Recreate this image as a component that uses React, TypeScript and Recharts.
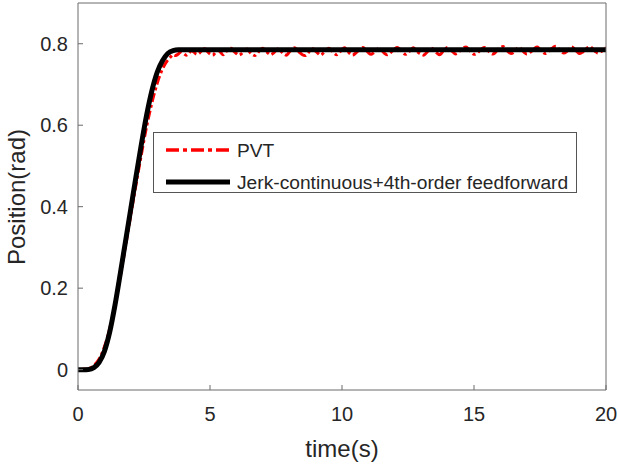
import React from 'react';
import { LineChart, Line, XAxis, YAxis, Legend } from 'recharts';

const FONT = '"Liberation Sans", Arial, Helvetica, sans-serif';
const TEXT = '#262626';
const AXIS = '#6a6a6a';

const X_TICKS = [0, 5, 10, 15, 20];
const Y_TICKS = [0, 0.2, 0.4, 0.6, 0.8];
const X_DOMAIN = [0, 20];
const Y_DOMAIN = [-0.05, 0.9];

const SERIES_NAMES = ['PVT', 'Jerk-continuous+4th-order feedforward'];

// Jerk-continuous + 4th-order feedforward (black)
const JERK_T = [0, 0.2, 0.4, 0.6, 0.8, 1.0, 1.2, 1.4, 1.6, 1.8, 2.0, 2.2, 2.4, 2.6, 2.8, 3.0, 3.2, 3.4, 3.6, 3.8, 20];
const JERK_POS = [0, 0, 0.0005, 0.005, 0.018, 0.045, 0.092, 0.158, 0.235, 0.315, 0.395, 0.475, 0.553, 0.625, 0.685, 0.73, 0.758, 0.776, 0.783, 0.785, 0.785];

// PVT (red) rise part
const PVT_RISE_T = [0, 0.2, 0.4, 0.6, 0.8, 1.0, 1.2, 1.4, 1.6, 1.8, 2.0, 2.2, 2.4, 2.6, 2.8, 3.0, 3.2, 3.4, 3.5];
const PVT_RISE_POS = [0, 0.001, 0.003, 0.01, 0.026, 0.056, 0.1, 0.158, 0.228, 0.303, 0.38, 0.455, 0.528, 0.597, 0.655, 0.703, 0.738, 0.76, 0.767];

// PVT (red) plateau, sampled every 0.1 s from 3.6 s to 20 s
const PVT_PLATEAU_START = 3.6;
const PVT_PLATEAU_STEP = 0.1;
const PVT_PLATEAU_POS = [
  0.773, 0.771, 0.775, 0.780, 0.776, 0.772, 0.777, 0.783, 0.779, 0.774,
  0.777, 0.784, 0.788, 0.781, 0.775, 0.772, 0.778, 0.784, 0.779, 0.773,
  0.780, 0.786, 0.789, 0.782, 0.776, 0.772, 0.776, 0.783, 0.787, 0.780,
  0.774, 0.771, 0.777, 0.785, 0.789, 0.784, 0.777, 0.773, 0.777, 0.784,
  0.788, 0.781, 0.775, 0.772, 0.779, 0.786, 0.790, 0.785, 0.778, 0.773,
  0.771, 0.776, 0.784, 0.788, 0.782, 0.776, 0.772, 0.778, 0.785, 0.789,
  0.784, 0.777, 0.773, 0.778, 0.786, 0.790, 0.783, 0.776, 0.772, 0.776,
  0.782, 0.788, 0.791, 0.785, 0.778, 0.774, 0.778, 0.784, 0.789, 0.784,
  0.777, 0.773, 0.776, 0.782, 0.788, 0.791, 0.786, 0.779, 0.774, 0.778,
  0.785, 0.790, 0.785, 0.778, 0.774, 0.772, 0.778, 0.785, 0.789, 0.783,
  0.777, 0.773, 0.779, 0.786, 0.791, 0.787, 0.780, 0.775, 0.778, 0.785,
  0.790, 0.792, 0.786, 0.779, 0.774, 0.776, 0.782, 0.788, 0.791, 0.785,
  0.779, 0.775, 0.778, 0.785, 0.790, 0.793, 0.787, 0.780, 0.776, 0.779,
  0.786, 0.791, 0.786, 0.779, 0.775, 0.778, 0.783, 0.789, 0.792, 0.786,
  0.780, 0.776, 0.779, 0.786, 0.791, 0.794, 0.788, 0.781, 0.777, 0.780,
  0.787, 0.792, 0.788, 0.781, 0.776, 0.779, 0.784, 0.790, 0.793, 0.787,
  0.781, 0.777, 0.780, 0.786, 0.790,
];

const jerkData = JERK_T.map((t, i) => ({ t, pos: JERK_POS[i] }));
const pvtData = [
  ...PVT_RISE_T.map((t, i) => ({ t, pos: PVT_RISE_POS[i] })),
  ...PVT_PLATEAU_POS.map((pos, i) => ({
    t: Math.round((PVT_PLATEAU_START + i * PVT_PLATEAU_STEP) * 1000) / 1000,
    pos,
  })),
];

const LegendBox = () => (
  <svg width={424} height={61} style={{ display: 'block' }}>
    <rect x={0.5} y={0.5} width={423} height={60} fill="#fff" stroke="#555" strokeWidth={1} />
    <line x1={13} y1={18} x2={77} y2={18} stroke="#ff0000" strokeWidth={3.5} strokeDasharray="13 4 4 4" />
    <text x={84} y={25} fontSize={19.2} fill={TEXT} fontFamily={FONT}>{SERIES_NAMES[0]}</text>
    <line x1={13} y1={50} x2={77} y2={50} stroke="#000" strokeWidth={5} />
    <text x={84} y={56.5} fontSize={19.2} fill={TEXT} fontFamily={FONT}>{SERIES_NAMES[1]}</text>
  </svg>
);

export default function App() {
  const tickStyle = { fill: TEXT, fontSize: 20, fontFamily: FONT };
  return (
    <div style={{ position: 'absolute', left: 0, top: 0, width: 618, height: 464, background: '#fff' }}>
      <LineChart width={618} height={464} margin={{ top: 0, right: 0, bottom: 0, left: 0 }}>
        <XAxis
          xAxisId={0}
          type="number"
          dataKey="t"
          domain={X_DOMAIN}
          ticks={X_TICKS}
          height={74}
          tickSize={-5}
          tickMargin={22}
          tick={tickStyle}
          stroke={AXIS}
          axisLine={{ stroke: AXIS }}
          tickLine={{ stroke: AXIS }}
          allowDataOverflow
        />
        <XAxis
          xAxisId="top"
          orientation="top"
          type="number"
          dataKey="t"
          domain={X_DOMAIN}
          ticks={X_TICKS}
          height={3}
          tickSize={-5}
          tick={false}
          axisLine={{ stroke: AXIS }}
          tickLine={{ stroke: AXIS }}
          allowDataOverflow
        />
        <YAxis
          yAxisId={0}
          type="number"
          domain={Y_DOMAIN}
          ticks={Y_TICKS}
          width={78}
          tickSize={-5}
          tickMargin={15}
          tick={tickStyle}
          axisLine={{ stroke: AXIS }}
          tickLine={{ stroke: AXIS }}
          allowDataOverflow
        />
        <YAxis
          yAxisId="right"
          orientation="right"
          type="number"
          domain={Y_DOMAIN}
          ticks={Y_TICKS}
          width={12}
          tickSize={-5}
          tick={false}
          axisLine={{ stroke: AXIS }}
          tickLine={{ stroke: AXIS }}
          allowDataOverflow
        />
        <Legend
          verticalAlign="middle"
          content={() => <LegendBox />}
          wrapperStyle={{ left: 153, top: 132, width: 424, height: 61 }}
        />
        <Line
          data={pvtData}
          dataKey="pos"
          name={SERIES_NAMES[0]}
          type="monotone"
          stroke="#ff0000"
          strokeWidth={3}
          strokeDasharray="9 3 3 3"
          dot={false}
          activeDot={false}
          isAnimationActive={false}
        />
        <Line
          data={jerkData}
          dataKey="pos"
          name={SERIES_NAMES[1]}
          type="monotone"
          stroke="#000000"
          strokeWidth={5}
          dot={false}
          activeDot={false}
          isAnimationActive={false}
        />
      </LineChart>
      <svg width={618} height={464} style={{ position: 'absolute', left: 0, top: 0, pointerEvents: 'none' }}>
        <text x={342} y={457} textAnchor="middle" fontSize={24} fill={TEXT} fontFamily={FONT}>time(s)</text>
        <text transform="translate(25,197) rotate(-90)" textAnchor="middle" fontSize={24} fill={TEXT} fontFamily={FONT}>Position(rad)</text>
      </svg>
    </div>
  );
}
